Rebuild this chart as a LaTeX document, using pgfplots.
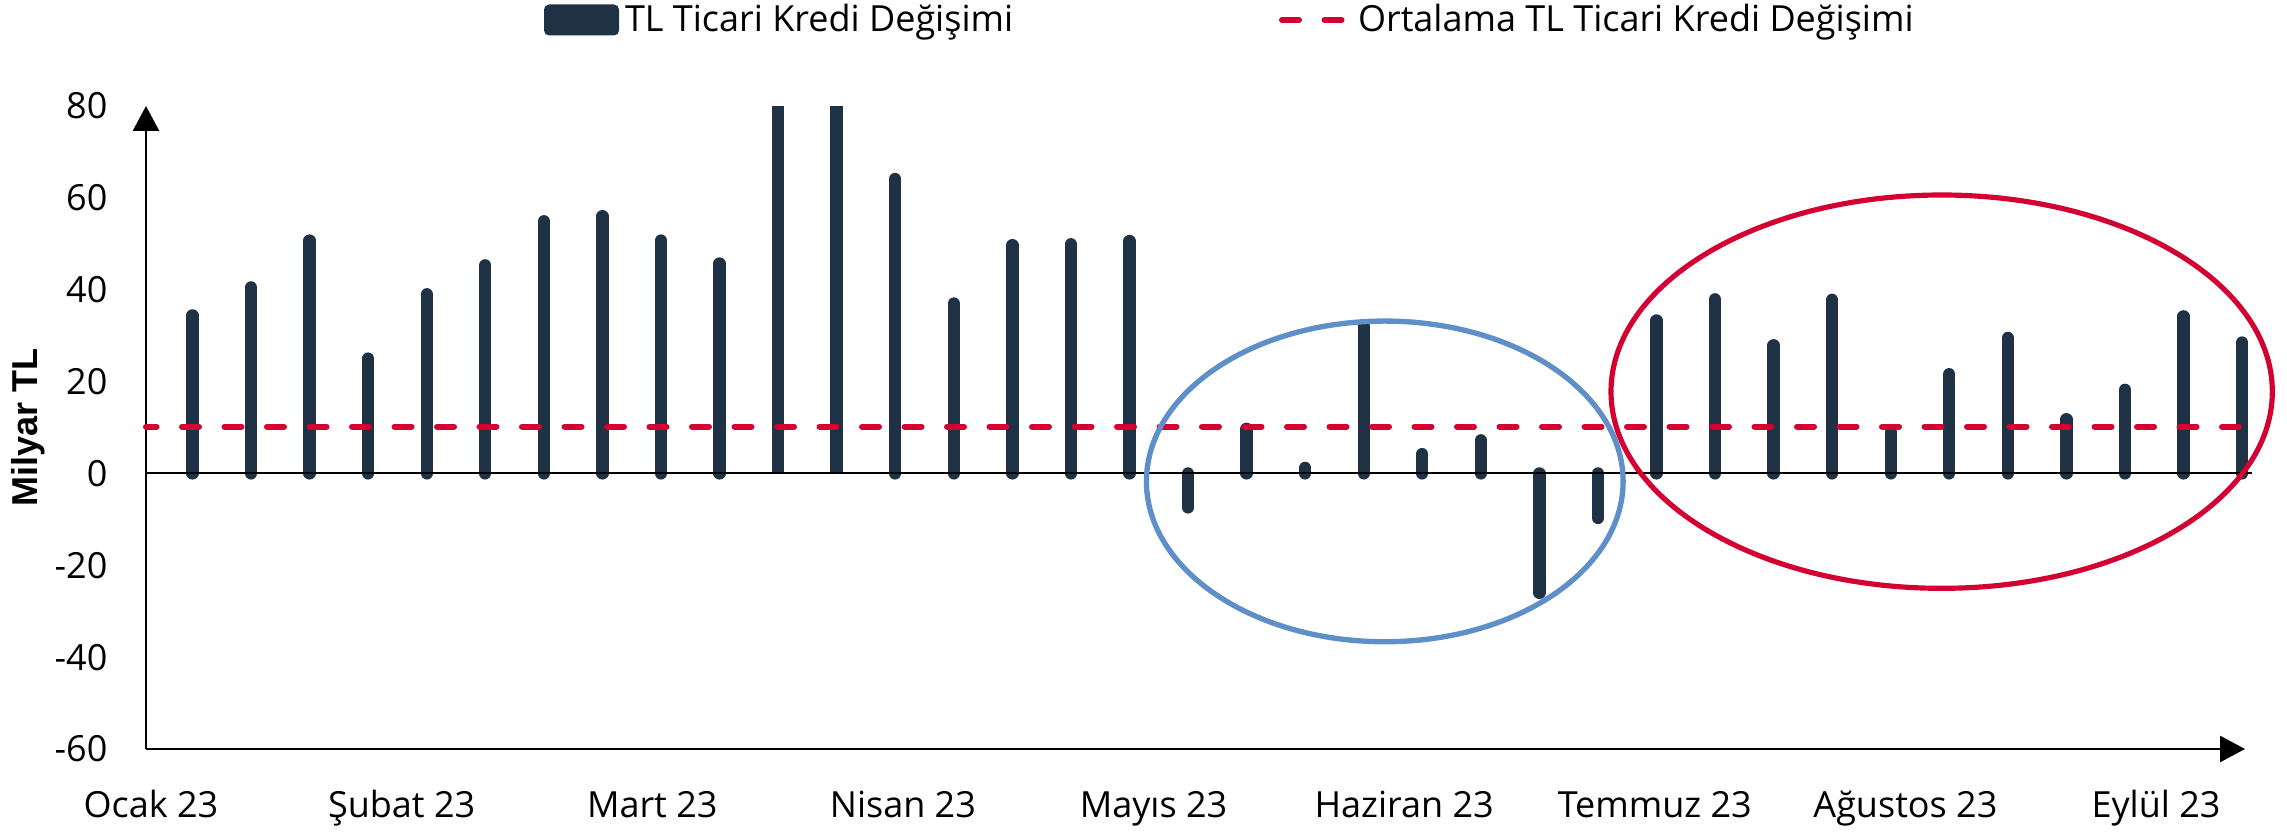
\documentclass[border=0pt]{standalone}
\usepackage{pgfplots}
\pgfplotsset{compat=1.18}
\usetikzlibrary{arrows.meta}
\usepackage{fontspec}
\setmainfont{Open Sans}
\newfontfamily\arialfont{Liberation Sans}
\definecolor{barcol}{HTML}{1F3145}
\definecolor{avgred}{HTML}{D50032}
\definecolor{ellblue}{HTML}{5F8FC8}

\pgfplotstableread{
x y
0 34.4
1 40.5
2 50.7
3 25.0
4 39.0
5 45.3
6 54.9
7 56.0
8 50.7
9 45.7
12 64.1
13 37.0
14 49.7
15 49.9
16 50.6
17 -7.4
18 9.7
19 1.2
20 32.0
21 4.2
22 7.2
23 -26.0
24 -9.7
25 33.3
26 37.9
27 27.9
28 37.8
29 9.0
30 21.6
31 29.5
32 11.8
33 18.2
34 34.2
35 28.5
}\bars

\pgfplotstableread{
x y
10 80
11 80
}\clipped

\begin{document}
\begin{tikzpicture}
\useasboundingbox (-43.8bp,-24.9bp) rectangle (642.3bp,224.7bp);
\begin{axis}[
  scale only axis, width=629.7bp, height=192.9bp,
  xmin=-0.794, xmax=35.05, ymin=-60, ymax=80,
  axis x line*=bottom, axis y line*=left,
  axis line style={line width=0.8bp, black},
  x axis line style={-{Triangle[width=7.8bp,length=7.5bp]}},
  y axis line style={-{Triangle[width=7.8bp,length=7.5bp]}},
  clip=false,
  major tick length=0pt,
  ytick={-60,-40,-20,0,20,40,60,80},
  xtick={-0.709,3.571,7.851,12.131,16.411,20.691,24.971,29.251,33.531},
  xticklabels={Ocak 23,Şubat 23,Mart 23,Nisan 23,Mayıs 23,Haziran 23,Temmuz 23,Ağustos 23,Eylül 23},
  tick label style={font=\fontsize{10.8bp}{13bp}\selectfont},
  /pgf/number format/assume math mode=true,
  yticklabel style={anchor=east, inner sep=0pt, xshift=-11.4bp},
  xticklabel style={anchor=base, inner sep=0pt, yshift=-20.4bp},
  ylabel={\arialfont\bfseries Milyar TL},
  ylabel style={font=\fontsize{10.8bp}{13bp}\selectfont, at={(axis description cs:-0.05622,0.5)}, anchor=center, rotate=0},
  legend style={at={(axis description cs:0.18962,1.13375)}, anchor=west, draw=none, fill=none,
    inner sep=0pt, outer sep=0pt, column sep=0pt,
    nodes={inner sep=0pt}, font=\fontsize{10.8bp}{13bp}\selectfont, cells={anchor=west}},
  legend columns=2,
  legend cell align=left,
]
\addlegendimage{legend image code/.code={
  \path[draw=none, fill=none] (0bp,-4.65bp) rectangle (24.3bp,4.65bp);
  \fill[barcol, draw=none, rounded corners=1.5bp] (0bp,-4.65bp) rectangle (22.5bp,4.65bp);}}
\addlegendentry{\makebox[196.2bp][l]{TL Ticari Kredi Değişimi}}
\addlegendimage{legend image code/.code={
  \path[draw=none, fill=none] (0bp,-4.65bp) rectangle (23.7bp,4.65bp);
  \draw[avgred, line width=1.8bp, line cap=round, dash pattern=on 5.1bp off 7.65bp] (0.9bp,0bp) -- (18.75bp,0bp);}}
\addlegendentry{Ortalama TL Ticari Kredi Değişimi}

\addplot[ycomb, barcol, line width=3.7bp, line cap=round, mark=none, forget plot] table[x=x,y=y] {\bars};
\addplot[ycomb, barcol, line width=3.7bp, line cap=butt, mark=none, forget plot] table[x=x,y=y] {\clipped};
\addplot[black, line width=0.6bp, forget plot] coordinates {(-0.794,0) (35.17,0)};
\addplot[avgred, line width=1.8bp, line cap=round, dash pattern=on 5.1bp off 7.65bp, dash phase=1.95bp, forget plot] coordinates {(-0.794,10.2) (35.0,10.2)};

\draw[ellblue, line width=1.6bp] (axis cs:20.36,-1.74) ellipse [x radius=71.5bp, y radius=48.1bp];
\draw[avgred, line width=1.55bp] (axis cs:29.87,17.8) ellipse [x radius=99.2bp, y radius=59bp];
\end{axis}
\end{tikzpicture}
\end{document}
